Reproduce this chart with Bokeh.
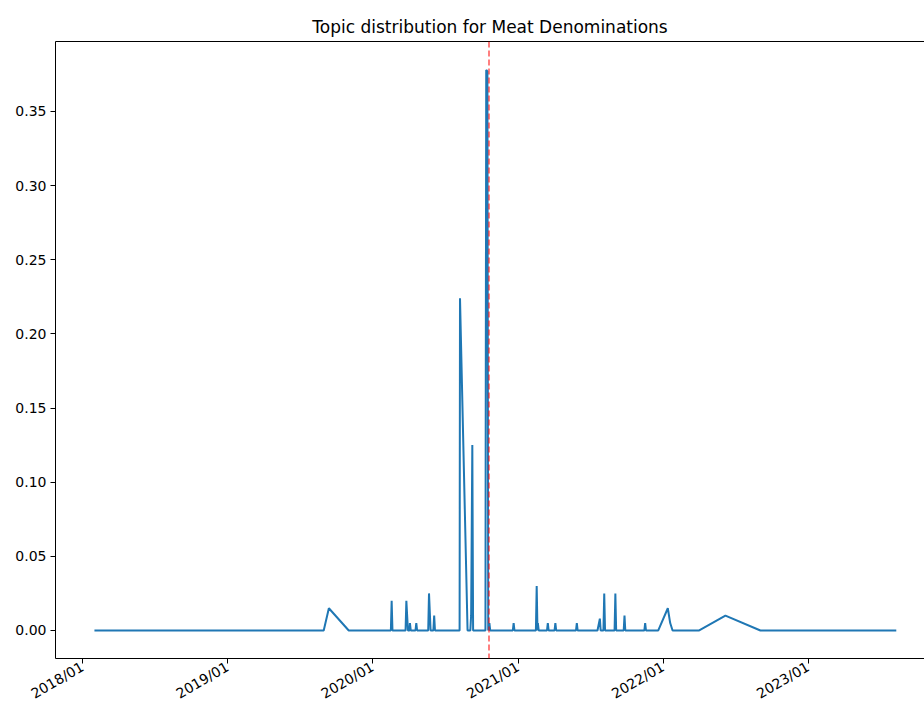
import pandas as pd
from bokeh.plotting import figure
from bokeh.models import (Range1d, FixedTicker, DatetimeTickFormatter, PrintfTickFormatter,
                          Span, LinearAxis)
from bokeh.embed import file_html
from bokeh.resources import INLINE

# ---- data ----
dates = [
    "2018-01-31", "2019-08-31", "2019-09-13", "2019-11-02",
    "2020-02-16", "2020-02-18", "2020-02-20",
    "2020-03-24", "2020-03-26", "2020-03-30", "2020-04-03", "2020-04-04", "2020-04-06",
    "2020-04-18", "2020-04-20", "2020-04-22",
    "2020-05-20", "2020-05-22", "2020-05-26", "2020-06-02", "2020-06-04", "2020-06-06",
    "2020-08-07", "2020-08-08", "2020-08-27",
    "2020-09-03", "2020-09-05", "2020-09-08", "2020-09-10",
    "2020-10-11", "2020-10-13", "2020-10-16", "2020-10-18", "2020-10-21", "2020-10-23",
    "2020-12-19", "2020-12-21", "2020-12-23",
    "2021-02-15", "2021-02-17", "2021-02-19", "2021-02-20", "2021-02-22",
    "2021-03-15", "2021-03-17", "2021-03-19",
    "2021-04-03", "2021-04-05", "2021-04-07",
    "2021-05-27", "2021-05-29", "2021-05-31",
    "2021-07-20", "2021-07-26", "2021-07-28",
    "2021-08-04", "2021-08-06", "2021-08-08",
    "2021-09-01", "2021-09-03", "2021-09-05",
    "2021-09-24", "2021-09-26", "2021-09-28",
    "2021-11-15", "2021-11-17", "2021-11-19",
    "2021-12-20", "2022-01-13", "2022-01-19", "2022-01-25",
    "2022-04-02", "2022-06-07", "2022-09-03", "2023-08-11",
]
values = [
    0.0, 0.0, 0.015, 0.0,
    0.0, 0.020, 0.0,
    0.0, 0.020, 0.0, 0.0, 0.005, 0.0,
    0.0, 0.005, 0.0,
    0.0, 0.025, 0.0, 0.0, 0.010, 0.0,
    0.0, 0.224, 0.0,
    0.0, 0.010, 0.125, 0.0,
    0.0, 0.378, 0.377, 0.0, 0.005, 0.0,
    0.0, 0.005, 0.0,
    0.0, 0.030, 0.0, 0.005, 0.0,
    0.0, 0.005, 0.0,
    0.0, 0.005, 0.0,
    0.0, 0.005, 0.0,
    0.0, 0.008, 0.0,
    0.0, 0.025, 0.0,
    0.0, 0.025, 0.0,
    0.0, 0.010, 0.0,
    0.0, 0.005, 0.0,
    0.0, 0.015, 0.005, 0.0,
    0.0, 0.010, 0.0, 0.0,
]
event_date = "2020-10-20"
x_tick_dates = ["2018-01-01", "2019-01-01", "2020-01-01", "2021-01-01", "2022-01-01", "2023-01-01"]
y_ticks = [0.00, 0.05, 0.10, 0.15, 0.20, 0.25, 0.30, 0.35]
title_text = "Topic distribution for Meat Denominations"


def ms(d):
    return pd.Timestamp(d).value / 1e6


FONT = "DejaVu Sans"

p = figure(width=924, height=711, x_axis_type="datetime", output_backend="svg",
           toolbar_location=None, title=title_text,
           x_range=Range1d(ms("2017-10-25"), ms("2023-10-21")),
           y_range=Range1d(-0.0189, 0.3972),
           min_border_left=55, min_border_right=0, min_border_top=41, min_border_bottom=53)

p.line(pd.to_datetime(dates), values, line_color="#1f77b4", line_width=2)

p.add_layout(Span(location=ms(event_date), dimension="height", line_color="red",
                  line_alpha=0.5, line_dash="6 3", line_width=2))

p.grid.visible = False
p.outline_line_color = None
p.background_fill_color = "white"
p.border_fill_color = "white"

p.title.text_font = FONT
p.title.text_font_size = "17px"
p.title.text_font_style = "normal"
p.title.align = "center"
p.title.text_color = "black"

xa = p.xaxis[0]
xa.ticker = FixedTicker(ticks=[ms(d) for d in x_tick_dates])
xa.formatter = DatetimeTickFormatter(years="%Y/%m", months="%Y/%m", days="%Y/%m",
                                     hours="%Y/%m", minutes="%Y/%m", seconds="%Y/%m",
                                     milliseconds="%Y/%m", microseconds="%Y/%m")
xa.major_label_orientation = 0.5236

ya = p.yaxis[0]
ya.ticker = FixedTicker(ticks=y_ticks)
ya.formatter = PrintfTickFormatter(format="%.2f")

for ax in (xa, ya):
    ax.major_label_text_font = FONT
    ax.major_label_text_font_size = "14px"
    ax.major_label_text_color = "black"
    ax.axis_line_color = "black"
    ax.axis_line_width = 1
    ax.major_tick_line_color = "black"
    ax.major_tick_out = 5
    ax.major_tick_in = 0
    ax.minor_tick_line_color = None
    ax.major_label_standoff = 4
xa.major_label_standoff = 2

top = LinearAxis(ticker=FixedTicker(ticks=[]), major_label_text_font_size="0px",
                 major_tick_line_color=None, minor_tick_line_color=None,
                 axis_line_color="black", axis_line_width=1)
p.add_layout(top, "above")

open("out.html", "w").write(file_html(p, INLINE))
